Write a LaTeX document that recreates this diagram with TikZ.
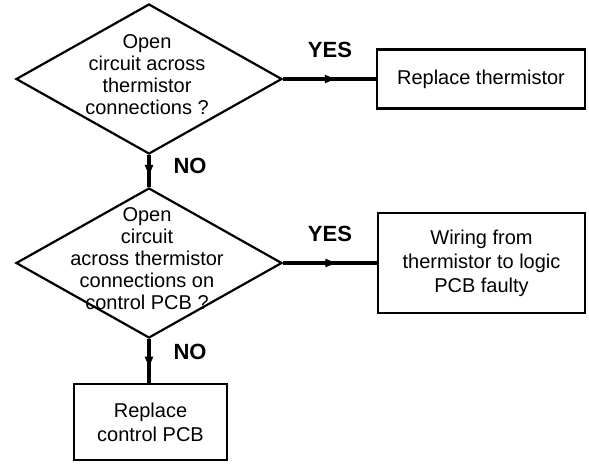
\documentclass[tikz,border=0pt]{standalone}
\usepackage{fontspec}
\setmainfont{Liberation Sans}
\usetikzlibrary{shapes.geometric,arrows.meta,decorations.markings}
\begin{document}
\begin{tikzpicture}[x=1pt,y=-1pt,
  decision/.style={draw,line width=2.2pt,diamond,minimum width=266pt,minimum height=150pt,inner sep=0pt},
  txt/.style={align=center,font=\fontsize{20}{22}\selectfont,inner sep=0pt},
  actbox/.style={draw,line width=2.2pt,inner sep=0pt,align=center,font=\fontsize{20}{24}\selectfont},
  lbl/.style={font=\bfseries\fontsize{22}{24}\selectfont,inner sep=0pt},
  flow/.style={line width=3.6pt,postaction={decorate},
    decoration={markings,mark=at position #1 with {\arrow{Latex[length=14pt,width=9pt]}}}},
  flow/.default=0.6
]
\useasboundingbox (0,0) rectangle (589,464);

\node[decision] (d1) at (149,79) {};
\node[txt] (t1) at (147,75) {Open\\circuit across\\thermistor\\connections ?};

\node[decision] (d2) at (149,263) {};
\node[txt] (t2) at (147,259) {Open\\circuit\\across thermistor\\connections on\\control PCB ?};

\node[actbox,minimum width=208pt,minimum height=59pt] (b1) at (481,79) {Replace thermistor};
\node[actbox,minimum width=207pt,minimum height=100pt] (b2) at (481.5,263) {Wiring from\\thermistor to logic\\PCB faulty};
\node[actbox,minimum width=153pt,minimum height=76pt] (b3) at (150.5,422) {Replace\\control PCB};

\draw[flow=0.6] (d1.east) -- (b1.west);
\draw[flow=0.6] (d2.east) -- (b2.west);
\draw[flow=0.75] (d1.south) -- (d2.north);
\draw[flow=0.72] (d2.south) -- (d2.south |- b3.north);

\node[lbl] (y1) at (330,50) {YES};
\node[lbl] (y2) at (330,233.5) {YES};
\node[lbl] (n1) at (190,166) {NO};
\node[lbl] (n2) at (190,352) {NO};
\end{tikzpicture}
\end{document}
